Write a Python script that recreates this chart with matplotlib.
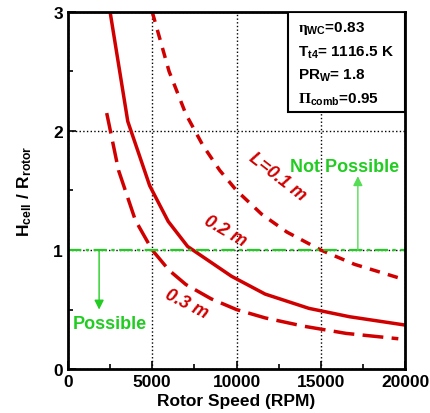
import matplotlib
matplotlib.use("Agg")
import matplotlib.pyplot as plt
import matplotlib.ticker as mticker
from matplotlib.patches import Rectangle

plt.rcParams["font.family"] = "Liberation Sans"
plt.rcParams["font.weight"] = "bold"
plt.rcParams["axes.labelweight"] = "bold"
plt.rcParams["mathtext.fontset"] = "custom"
plt.rcParams["mathtext.rm"] = "Liberation Sans:bold"
plt.rcParams["mathtext.bf"] = "Liberation Sans:bold"
plt.rcParams["mathtext.it"] = "Liberation Sans:bold"
plt.rcParams["mathtext.sf"] = "Liberation Serif"

RED = "#d10000"
GREEN = "#22cc22"

# Curves: rotor speed (RPM) vs H_cell / R_rotor
rpm_01 = [5000, 6000, 7000, 8000, 9000, 10000, 11500, 13000, 15000, 17000, 20000]
h_01 = [3.0, 2.5, 2.14, 1.88, 1.67, 1.5, 1.3, 1.15, 1.0, 0.88, 0.75]

rpm_02 = [2500, 3550, 4850, 5950, 7100, 9700, 11700, 14300, 16700, 20000]
h_02 = [3.0, 2.08, 1.54, 1.24, 1.03, 0.78, 0.63, 0.51, 0.44, 0.37]

rpm_03 = [2300, 3000, 4000, 5000, 6000, 7000, 8500, 10000, 11700, 14000, 16500, 19600]
h_03 = [2.15, 1.67, 1.25, 1.0, 0.83, 0.71, 0.59, 0.5, 0.43, 0.36, 0.3, 0.255]

param_lines = [r"$\mathsf{\eta}_{\mathrm{WC}}$=0.83",
               r"$\mathrm{T_{t4}}$= 1116.5 K",
               r"$\mathrm{PR_{W}}$= 1.8",
               r"$\mathsf{\Pi}_{\mathrm{comb}}$=0.95"]

fig = plt.figure(figsize=(4.3, 4.14), dpi=100)
ax = fig.add_axes([0.158, 0.106, 0.784, 0.863])

ax.plot(rpm_01, h_01, color=RED, lw=2.5, dashes=(3, 2.4))
ax.plot(rpm_02, h_02, color=RED, lw=2.5)
ax.plot(rpm_03, h_03, color=RED, lw=2.5, dashes=(6, 2.4))

# limit line and arrows
ax.plot([0, 20000], [1, 1], color=GREEN, lw=1.6, dashes=(6, 2, 1.5, 2))
ax.annotate("", xy=(1850, 0.5), xytext=(1850, 1.0),
            arrowprops=dict(arrowstyle="-|>", color=GREEN, lw=1.0,
                            mutation_scale=14, shrinkA=0, shrinkB=0))
ax.annotate("", xy=(17200, 1.62), xytext=(17200, 1.0),
            arrowprops=dict(arrowstyle="-|>", color="#55dd55", lw=1.0,
                            mutation_scale=14, shrinkA=0, shrinkB=0))
ax.text(2500, 0.38, "Possible", color=GREEN, fontsize=13, ha="center", va="center")
ax.text(16400, 1.7, "Not Possible", color=GREEN, fontsize=13, ha="center", va="center")

# curve labels
ax.text(12400, 1.62, "L=0.1 m", color=RED, fontsize=13, style="italic",
        rotation=-38, ha="center", va="center")
ax.text(9300, 1.16, "0.2 m", color=RED, fontsize=13, style="italic",
        rotation=-30, ha="center", va="center")
ax.text(7050, 0.55, "0.3 m", color=RED, fontsize=13, style="italic",
        rotation=-27, ha="center", va="center")

# parameter box
ax.add_patch(Rectangle((0.653, 0.72), 0.347, 0.28, transform=ax.transAxes,
                       fc="white", ec="black", lw=1.5, zorder=5))
for i, s in enumerate(param_lines):
    ax.text(0.683, 0.955 - i * 0.066, s, transform=ax.transAxes, fontsize=11,
            ha="left", va="center", zorder=6)

ax.set_xlim(0, 20000)
ax.set_ylim(0, 3)
ax.xaxis.set_major_locator(mticker.MultipleLocator(5000))
ax.xaxis.set_minor_locator(mticker.MultipleLocator(2500))
ax.yaxis.set_major_locator(mticker.MultipleLocator(1))
ax.yaxis.set_minor_locator(mticker.MultipleLocator(0.5))
ax.tick_params(which="both", direction="in", labelsize=12.5, width=1.2)
ax.tick_params(which="major", length=6)
ax.tick_params(which="minor", length=3.5)
for lbl in ax.get_xticklabels() + ax.get_yticklabels():
    lbl.set_fontweight("bold")
ax.grid(True, which="major", color="black", ls=":", lw=1.0)
for sp in ax.spines.values():
    sp.set_linewidth(2)

ax.set_xlabel("Rotor Speed (RPM)", fontsize=12.5, fontweight="bold", labelpad=3)
ax.set_ylabel(r"$\mathrm{H_{cell}\ /\ R_{rotor}}$", fontsize=12.5, labelpad=14)

fig.savefig("out.png", dpi=100)
